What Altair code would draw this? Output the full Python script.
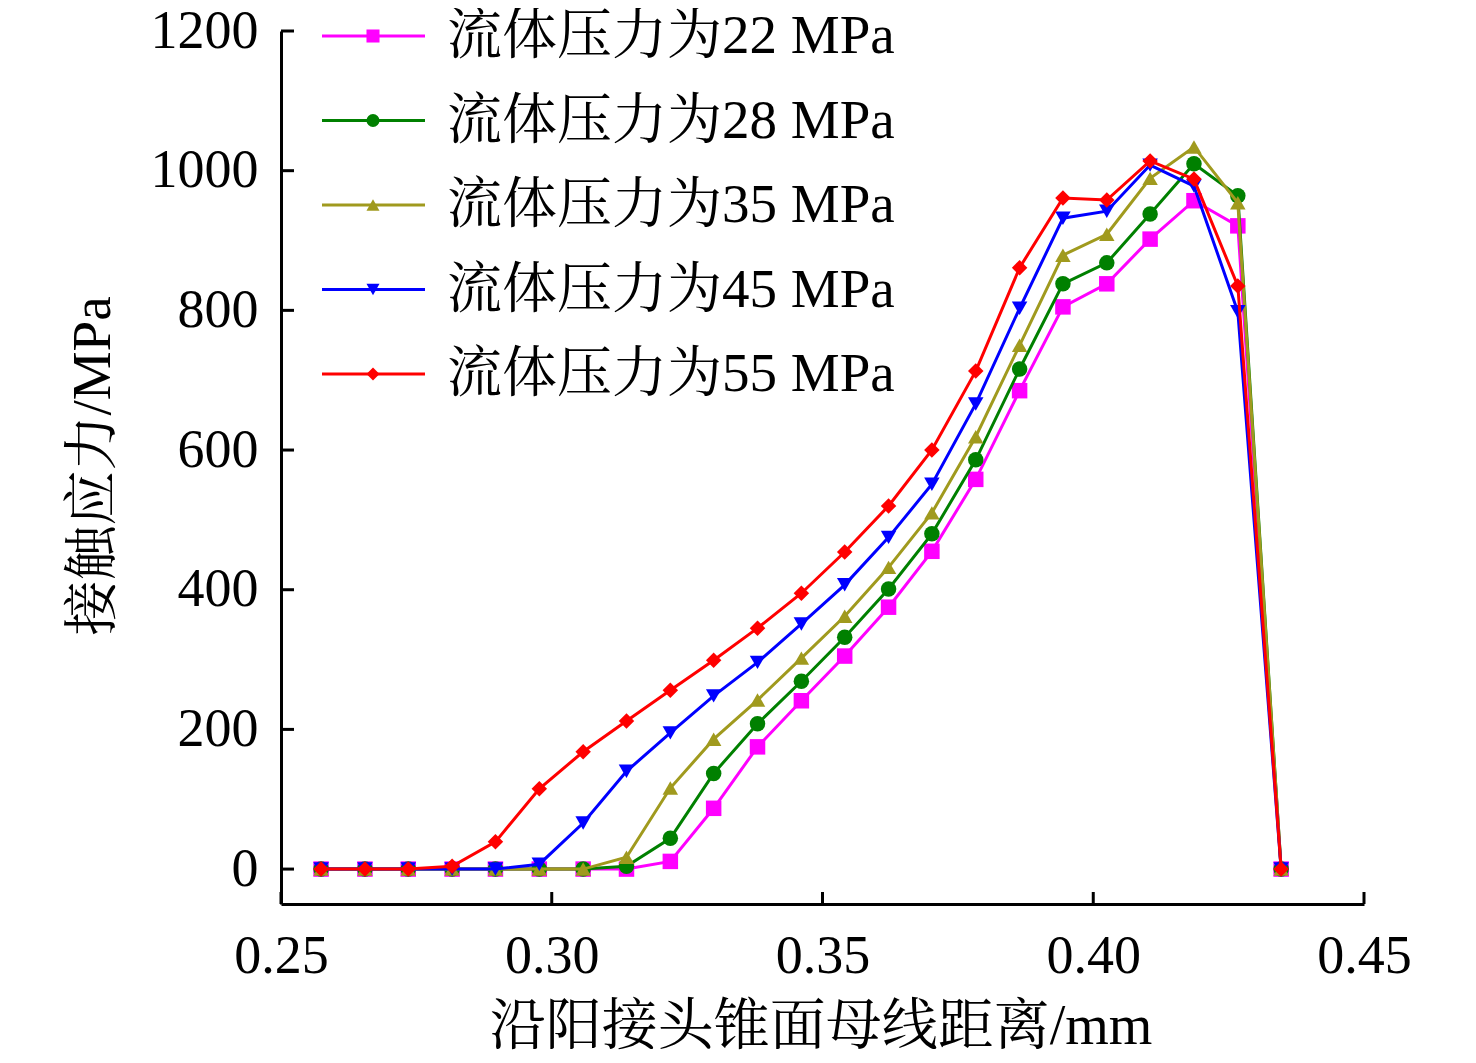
import altair as alt
import pandas as pd

# distance along the cone generatrix (mm)
x_vals = [0.2574, 0.2655, 0.2735, 0.2816, 0.2896, 0.2977, 0.3058, 0.3138, 0.3219,
          0.3299, 0.3380, 0.3461, 0.3541, 0.3622, 0.3702, 0.3783, 0.3864, 0.3944,
          0.4025, 0.4105, 0.4186, 0.4267, 0.4347]

s22 = [0, 0, 0, 0, 0, 0, 0, 0, 11, 87, 175, 241, 305, 375, 455, 558, 685, 805, 838, 902, 957, 921, 0]
s28 = [0, 0, 0, 0, 0, 0, 0, 4, 44, 137, 208, 269, 332, 401, 480, 586, 716, 838, 868, 938, 1010, 964, 0]
s35 = [0, 0, 0, 0, 0, 0, 0, 17, 116, 186, 242, 302, 362, 432, 510, 619, 750, 879, 909, 989, 1034, 954, 0]
s45 = [0, 0, 0, 0, 0, 7, 66, 140, 195, 248, 296, 351, 407, 475, 551, 666, 803, 932, 942, 1008, 978, 798, 0]
s55 = [0, 0, 0, 4, 39, 115, 168, 212, 256, 299, 345, 395, 454, 520, 600, 713, 861, 961, 958, 1014, 988, 835, 0]

labels = ["流体压力为22 MPa", "流体压力为28 MPa", "流体压力为35 MPa",
          "流体压力为45 MPa", "流体压力为55 MPa"]
series = [s22, s28, s35, s45, s55]
colors = ["#FF00FF", "#008000", "#A09A1E", "#0000FF", "#FF0000"]
shapes = ["square", "circle", "triangle-up", "triangle-down", "diamond"]

x_ticks = [0.25, 0.30, 0.35, 0.40, 0.45]
y_ticks = [0, 200, 400, 600, 800, 1000, 1200]

FONT = "Liberation Serif, Times New Roman, Noto Serif CJK SC, Noto Sans CJK SC"
W, H = 1083, 873

rows = []
for lab, vals in zip(labels, series):
    for xv, yv in zip(x_vals, vals):
        rows.append({"x": xv, "y": yv, "series": lab})
df = pd.DataFrame(rows)

xscale = alt.Scale(domain=[0.25, 0.45], nice=False, zero=False)
yscale = alt.Scale(domain=[-50, 1200], nice=False, zero=False)
cscale = alt.Scale(domain=labels, range=colors)

X = alt.X("x:Q", scale=xscale, title="沿阳接头锥面母线距离/mm",
          axis=alt.Axis(values=x_ticks, format=".2f", grid=False, ticks=False, tickSize=0,
                        domainWidth=3, domainColor="black", labelFontSize=54,
                        labelFont=FONT, labelColor="black", labelPadding=25,
                        labelFlush=False, labelOverlap=False,
                        titleFont=FONT, titleFontSize=56, titleFontWeight="normal",
                        titleColor="black", titleBaseline="middle", titleY=122,
                        titleX=W / 2 - 2))
Y = alt.Y("y:Q", scale=yscale, title="接触应力/MPa",
          axis=alt.Axis(values=y_ticks, format="d", grid=False, ticks=False, tickSize=0,
                        domainWidth=3, domainColor="black", labelFontSize=54,
                        labelFont=FONT, labelColor="black", labelPadding=23,
                        labelFlush=False, labelOverlap=False,
                        titleFont=FONT, titleFontSize=55, titleFontWeight="normal",
                        titleColor="black", titleBaseline="middle", titleX=-189,
                        titleY=H / 2 - 2, titleAngle=-90))

layers = []
for i, lab in enumerate(labels):
    base = alt.Chart(df).transform_filter(alt.datum.series == lab)
    enc = dict(x=X, y=Y, color=alt.Color("series:N", scale=cscale, legend=None))
    if i > 0:
        enc = dict(x=alt.X("x:Q", scale=xscale), y=alt.Y("y:Q", scale=yscale),
                   color=alt.Color("series:N", scale=cscale, legend=None))
    layers.append(base.mark_line(strokeWidth=3).encode(order="x:Q", **enc))
    layers.append(base.mark_point(filled=True, opacity=1, size=240, shape=shapes[i]).encode(**enc))

# inward ticks
xt = pd.DataFrame({"v": x_ticks})
yt = pd.DataFrame({"v": y_ticks})
layers.append(alt.Chart(xt).mark_rule(color="black", strokeWidth=3).encode(
    x=alt.X("v:Q", scale=xscale), y=alt.value(H), y2=alt.value(H - 12)))
layers.append(alt.Chart(yt).mark_rule(color="black", strokeWidth=3).encode(
    y=alt.Y("v:Q", scale=yscale), x=alt.value(0), x2=alt.value(13)))

# legend
for i, lab in enumerate(labels):
    ly = 5 + i * 84.5
    ld = pd.DataFrame({"label": [lab]})
    c = alt.Chart(ld)
    layers.append(c.mark_rule(color=colors[i], strokeWidth=3).encode(
        x=alt.value(41), x2=alt.value(144), y=alt.value(ly)))
    layers.append(c.mark_point(filled=True, opacity=1, size=170, shape=shapes[i],
                               color=colors[i]).encode(x=alt.value(92), y=alt.value(ly)))
    layers.append(c.mark_text(align="left", baseline="middle", font=FONT, fontSize=55,
                              color="black").encode(
        text="label:N", x=alt.value(166), y=alt.value(ly)))

chart = alt.layer(*layers).properties(
    width=W, height=H,
    autosize=alt.AutoSizeParams(type="none"),
    padding={"left": 273, "top": 23, "right": 80, "bottom": 160},
).configure(background="white").configure_view(stroke=None, strokeWidth=0)

chart.save("out.html", embed_options={"renderer": "svg", "actions": False})
